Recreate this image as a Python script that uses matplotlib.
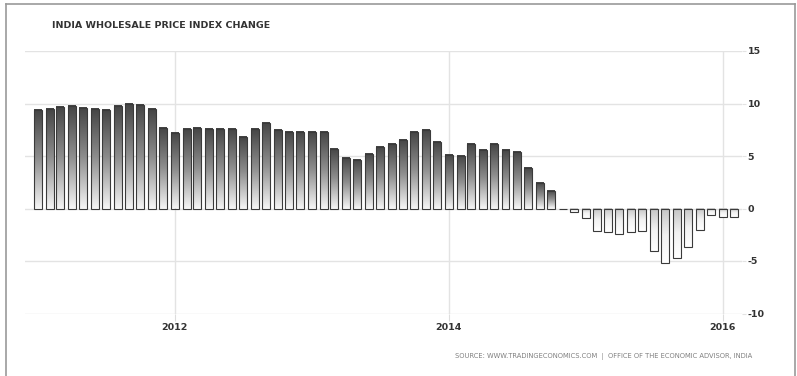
import numpy as np
import pandas as pd
import matplotlib
matplotlib.use("Agg")
import matplotlib.pyplot as plt
import matplotlib.dates as mdates
from matplotlib.colors import LinearSegmentedColormap
from matplotlib.lines import Line2D

# ---------------- data ----------------
title = "INDIA WHOLESALE PRICE INDEX CHANGE"
source = "SOURCE: WWW.TRADINGECONOMICS.COM  |  OFFICE OF THE ECONOMIC ADVISOR, INDIA"
start_month = "2011-01-01"
wpi_change = [
    9.40, 9.50, 9.65, 9.80, 9.60, 9.45, 9.35, 9.80, 10.00, 9.87, 9.45, 7.70,   # 2011
    7.20, 7.55, 7.70, 7.55, 7.60, 7.60, 6.85, 7.60, 8.10, 7.50, 7.30, 7.30,    # 2012
    7.30, 7.30, 5.65, 4.85, 4.60, 5.15, 5.85, 6.10, 6.50, 7.30, 7.50, 6.35,    # 2013
    5.10, 5.00, 6.10, 5.55, 6.15, 5.60, 5.40, 3.85, 2.40, 1.65, 0.00, -0.30,   # 2014
    -0.90, -2.15, -2.20, -2.45, -2.20, -2.15, -4.05, -5.20, -4.75, -3.70, -2.05, -0.65,  # 2015
    -0.85, -0.85,                                                              # 2016
]
year_ticks = ["2012-01-01", "2014-01-01", "2016-01-01"]
year_labels = ["2012", "2014", "2016"]
y_ticks = [-10, -5, 0, 5, 10, 15]

months = pd.date_range(start_month, periods=len(wpi_change), freq="MS")
x = mdates.date2num(months)

# ---------------- figure ----------------
W, H = 797, 376
fig = plt.figure(figsize=(W / 100, H / 100), dpi=100)
fig.patch.set_facecolor("white")
ax = fig.add_axes([25 / W, 62.5 / H, 717 / W, 262.5 / H])

bars = ax.bar(x, wpi_change, width=21.3, facecolor="none",
              edgecolor="#3a3a3a", linewidth=0.8, zorder=3)

pos_cmap = LinearSegmentedColormap.from_list("pos", ["#f4f4f4", "#8e8e8e", "#444444"])
neg_cmap = LinearSegmentedColormap.from_list("neg", ["#ffffff", "#f2f2f2", "#c4c4c4"])
grad = np.linspace(0, 1, 256).reshape(-1, 1)
for p in bars:
    x0, y0 = p.get_xy()
    w, h = p.get_width(), p.get_height()
    if h == 0:
        continue
    lo, hi = min(y0, y0 + h), max(y0, y0 + h)
    cmap = pos_cmap if h > 0 else neg_cmap
    ax.imshow(grad, cmap=cmap, aspect="auto", origin="lower",
              extent=[x0, x0 + w, lo, hi], zorder=2, interpolation="bilinear")

ax.set_xlim(mdates.date2num(pd.Timestamp("2010-11-27")),
            mdates.date2num(pd.Timestamp("2016-02-22")))
ax.set_ylim(-10, 15)

ax.set_xticks(mdates.date2num(pd.to_datetime(year_ticks)))
ax.set_xticklabels(year_labels)
ax.set_yticks(y_ticks)
ax.set_yticklabels([str(v) for v in y_ticks])
ax.yaxis.tick_right()

ax.set_axisbelow(True)
ax.grid(True, color="#e3e3e3", linewidth=1.0)
for s in ax.spines.values():
    s.set_visible(False)

ax.tick_params(axis="x", length=5, color="#dddddd", pad=2,
               labelsize=6.8, labelcolor="#333333")
ax.tick_params(axis="y", length=3, color="#e3e3e3", pad=1,
               labelsize=6.8, labelcolor="#333333")
for lab in ax.get_xticklabels() + ax.get_yticklabels():
    lab.set_fontweight("bold")

fig.text(52 / W, 1 - 25 / H, title, fontsize=6.8, fontweight="bold",
         color="#333333", va="center", ha="left")
fig.text(752 / W, 1 - 356 / H, source, fontsize=4.9, color="#808080",
         va="center", ha="right")

# outer frame
frame_kw = dict(color="#9a9a9a", linewidth=1.2, transform=fig.transFigure)
fig.lines.append(Line2D([5.5 / W, 5.5 / W], [0, 1 - 4 / H], **frame_kw))
fig.lines.append(Line2D([5.5 / W, 794.5 / W], [1 - 4 / H, 1 - 4 / H], **frame_kw))
fig.lines.append(Line2D([794.5 / W, 794.5 / W], [0, 1 - 4 / H], **frame_kw))

fig.savefig("out.png", dpi=100)
